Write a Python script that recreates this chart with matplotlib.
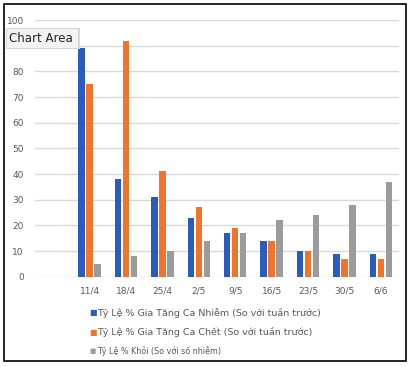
import matplotlib
matplotlib.use("Agg")
import matplotlib.pyplot as plt
from matplotlib.patches import Rectangle
import numpy as np

categories = ["11/4", "18/4", "25/4", "2/5", "9/5", "16/5", "23/5", "30/5", "6/6"]
nhiem = [89, 38, 31, 23, 17, 14, 10, 9, 9]
chet = [75, 92, 41, 27, 19, 14, 10, 7, 7]
khoi = [5, 8, 10, 14, 17, 22, 24, 28, 37]
series_labels = [
    "Tỷ Lệ % Gia Tăng Ca Nhiễm (So với tuần trước)",
    "Tỷ Lệ % Gia Tăng Ca Chết (So với tuần trước)",
    "Tỷ Lệ % Khỏi (So với số nhiễm)",
]
colors = ["#2a5cbf", "#f4732a", "#9b9b9b"]
yticks = [0, 10, 20, 30, 40, 50, 60, 70, 80, 90, 100]
# the "90" label is hidden behind the "Chart Area" tooltip in the reference
ytick_labels = ["0", "10", "20", "30", "40", "50", "60", "70", "80", "", "100"]

W, H = 413, 367
fig = plt.figure(figsize=(W / 100, H / 100), dpi=100)
fig.patch.set_facecolor("white")

def fx(px):
    return px / W

def fy(py):
    return 1 - py / H

ax = fig.add_axes([fx(35), fy(276.7), fx(399) - fx(35), fy(20) - fy(276.7)])
x = np.arange(len(categories))
bw = 0.18
off = 0.22
for i, (vals, c) in enumerate(zip([nhiem, chet, khoi], colors)):
    ax.bar(x + (i - 1) * off, vals, width=bw, color=c, zorder=3)

ax.set_xlim(-1.5, len(categories) - 0.5)
ax.set_ylim(0, 100)
ax.set_yticks(yticks)
ax.set_yticklabels(ytick_labels, fontsize=6.5, color="#595959")
ax.set_xticks(x)
ax.set_xticklabels(categories, fontsize=6.5, color="#595959")
ax.tick_params(axis="both", length=0)
ax.tick_params(axis="y", pad=8)
ax.tick_params(axis="x", pad=7)
for s in ax.spines.values():
    s.set_visible(False)
ax.grid(axis="y", color="#d9d9d9", linewidth=1.0, zorder=0)
ax.set_axisbelow(True)
ax.patch.set_alpha(0)

rows = [313, 332, 351]
sizes = [6.8, 6.8, 5.8]
for lbl, c, yy, fs in zip(series_labels, colors, rows, sizes):
    fig.text(fx(93), fy(yy), "■", color=c, fontsize=fs - 1, va="center", ha="center")
    fig.text(fx(97), fy(yy), lbl, color="#595959", fontsize=fs, va="center", ha="left")

fig.patches.append(Rectangle((fx(4), fy(361)), fx(406) - fx(4), fy(4) - fy(361),
                             transform=fig.transFigure, fill=False,
                             edgecolor="black", linewidth=1.2, zorder=10))

fig.patches.append(Rectangle((fx(7), fy(49)), fx(80) - fx(7), fy(28) - fy(49),
                             transform=fig.transFigure, facecolor="#dcdcdc",
                             edgecolor="none", zorder=11))
fig.patches.append(Rectangle((fx(6), fy(48)), fx(78) - fx(6), fy(28) - fy(48),
                             transform=fig.transFigure, facecolor="#f3f3f3",
                             edgecolor="#d0d0d0", linewidth=0.6, zorder=12))
fig.text(fx(9), fy(38), "Chart Area", fontsize=8.5, color="#222222",
         va="center", ha="left", zorder=13)

fig.savefig("out.png", dpi=100)
